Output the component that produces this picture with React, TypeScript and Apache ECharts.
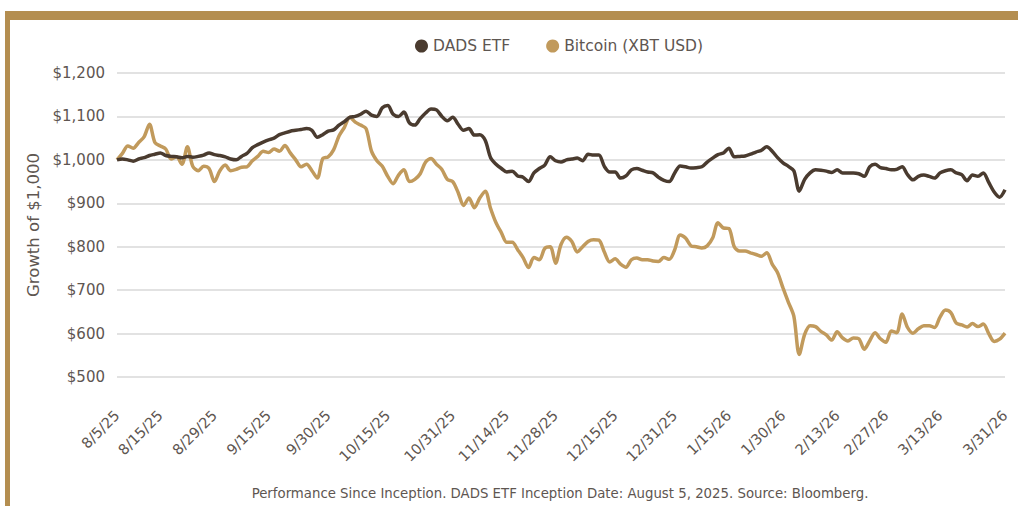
import React, { useEffect, useRef } from "react";
import * as echarts from "echarts";

// Trading-day holidays (US market) within the range
const holidays = ["2025-09-01", "2025-11-27", "2025-12-25", "2026-01-01", "2026-01-19", "2026-02-16"];

function tradingDays(): string[] {
  const out: string[] = [];
  const d = new Date(Date.UTC(2025, 7, 5));
  const end = new Date(Date.UTC(2026, 2, 31));
  while (d <= end) {
    const wd = d.getUTCDay();
    const iso = d.toISOString().slice(0, 10);
    if (wd !== 0 && wd !== 6 && holidays.indexOf(iso) < 0) {
      out.push(`${d.getUTCMonth() + 1}/${d.getUTCDate()}/${String(d.getUTCFullYear()).slice(2)}`);
    }
    d.setUTCDate(d.getUTCDate() + 1);
  }
  return out;
}

const categories = tradingDays();

const tickLabels = [
  "8/5/25", "8/15/25", "8/29/25", "9/15/25", "9/30/25", "10/15/25", "10/31/25", "11/14/25",
  "11/28/25", "12/15/25", "12/31/25", "1/15/26", "1/30/26", "2/13/26", "2/27/26", "3/13/26", "3/31/26",
];

const dadsEtf = [
  1000, 1002, 1000, 997, 1002, 1005, 1010, 1013, 1016, 1010,
  1008, 1007, 1005, 1008, 1006, 1008, 1011, 1016, 1012, 1010,
  1007, 1002, 1000, 1008, 1015, 1028, 1035, 1041, 1046, 1050,
  1058, 1062, 1066, 1068, 1070, 1072, 1068, 1052, 1058, 1066,
  1069, 1080, 1088, 1098, 1100, 1105, 1112, 1103, 1100, 1120,
  1125, 1105, 1100, 1110, 1085, 1080, 1095, 1108, 1117, 1115,
  1100, 1090, 1098, 1082, 1068, 1072, 1057, 1058, 1045, 1005,
  990, 980, 972, 974, 963, 960, 950, 970, 980, 988,
  1007, 998, 995, 1000, 1002, 1004, 998, 1013, 1011, 1011,
  985, 972, 972, 958, 963, 977, 980, 976, 972, 970,
  960, 953, 950, 970, 986, 984, 981, 982, 984, 995,
  1004, 1012, 1016, 1027, 1007, 1008, 1009, 1013, 1018, 1022,
  1030, 1020, 1005, 993, 985, 975, 928, 955, 970, 977,
  976, 974, 971, 977, 970, 970, 970, 968, 962, 984,
  990, 982, 980, 977, 978, 984, 966, 954, 962, 965,
  962, 958, 970, 975, 977, 970, 966, 952, 965, 962,
  970, 948, 926, 914, 931,
];

const bitcoin = [
  1000, 1015, 1032, 1027, 1040, 1053, 1082, 1040, 1032, 1025,
  1002, 1007, 990, 1030, 985, 975, 985, 980, 950, 975,
  988, 975, 978, 983, 984, 998, 1008, 1020, 1017, 1025,
  1020, 1033, 1016, 1000, 984, 990, 975, 958, 1003, 1007,
  1023, 1055, 1075, 1098, 1087, 1080, 1072, 1020, 998, 985,
  962, 945, 965, 977, 950, 955, 968, 995, 1003, 990,
  978, 955, 950, 925, 895, 912, 890, 912, 928, 888,
  855, 832, 810, 810, 793, 775, 752, 775, 770, 796,
  800, 762, 805, 822, 812, 788, 800, 812, 816, 815,
  788, 765, 772, 760, 753, 770, 774, 770, 770, 767,
  766, 775, 771, 793, 827, 820, 802, 800, 797, 802,
  820, 855, 843, 842, 800, 790, 790, 786, 782, 778,
  786, 760, 740, 705, 672, 640, 552, 598, 618, 616,
  605, 597, 585, 604, 590, 583, 590, 588, 564, 583,
  602, 588, 580, 606, 602, 645, 614, 601, 611, 618,
  618, 614, 638, 654, 648, 624, 620, 615, 623, 616,
  622, 600, 582, 587, 601,
];

const yTicks = [500, 600, 700, 800, 900, 1000, 1100, 1200];

const DADS_COLOR = "#4a3b2f";
const BTC_COLOR = "#c19a5c";
const BORDER_COLOR = "#b48e50";
const TEXT_COLOR = "#5e5651";
const FONT = "'DejaVu Sans', sans-serif";

export default function App() {
  const ref = useRef<HTMLDivElement>(null);

  useEffect(() => {
    document.body.style.margin = "0";
    if (!ref.current) return;
    const chart = echarts.init(ref.current, undefined, { renderer: "svg" });
    const labelSet = new Set(tickLabels);
    chart.setOption({
      animation: false,
      backgroundColor: "#ffffff",
      textStyle: { fontFamily: FONT },
      graphic: [
        { type: "rect", shape: { x: 5, y: 11, width: 1013, height: 9 }, style: { fill: BORDER_COLOR }, silent: true },
        { type: "rect", shape: { x: 5, y: 11, width: 5, height: 495 }, style: { fill: BORDER_COLOR }, silent: true },
        {
          type: "text",
          x: 560,
          y: 493,
          style: {
            text: "Performance Since Inception. DADS ETF Inception Date: August 5, 2025. Source: Bloomberg.",
            fill: TEXT_COLOR,
            font: `13.3px ${FONT}`,
            align: "center",
            verticalAlign: "middle",
          },
        },
      ],
      legend: {
        top: 33,
        left: 410,
        icon: "circle",
        itemWidth: 13,
        itemHeight: 13,
        itemGap: 36,
        textStyle: { color: TEXT_COLOR, fontSize: 15.5, fontFamily: FONT },
        data: ["DADS ETF", "Bitcoin (XBT USD)"],
      },
      grid: { left: 117, right: 13, top: 73, bottom: 129 },
      xAxis: {
        type: "category",
        data: categories,
        boundaryGap: false,
        axisLine: { show: false },
        axisTick: { show: false },
        splitLine: { show: false },
        axisLabel: {
          rotate: 45,
          margin: 36,
          color: TEXT_COLOR,
          fontSize: 14.5,
          fontFamily: FONT,
          interval: (_i: number, v: string) => labelSet.has(v),
        },
      },
      yAxis: {
        type: "value",
        min: yTicks[0],
        max: yTicks[yTicks.length - 1],
        interval: 100,
        name: "Growth of $1,000",
        nameLocation: "middle",
        nameRotate: 90,
        nameGap: 73,
        nameTextStyle: { color: TEXT_COLOR, fontSize: 16.5, fontFamily: FONT },
        axisLine: { show: false },
        axisTick: { show: false },
        axisLabel: {
          color: TEXT_COLOR,
          fontSize: 15,
          fontFamily: FONT,
          margin: 12,
          formatter: (v: number) => "$" + v.toLocaleString("en-US"),
        },
        splitLine: { lineStyle: { color: "#d9d9d9", width: 1.5 } },
      },
      series: [
        {
          name: "DADS ETF",
          type: "line",
          data: dadsEtf,
          showSymbol: false,
          smooth: 0.3,
          itemStyle: { color: DADS_COLOR },
          lineStyle: { color: DADS_COLOR, width: 3.5 },
          z: 3,
        },
        {
          name: "Bitcoin (XBT USD)",
          type: "line",
          data: bitcoin,
          showSymbol: false,
          smooth: 0.3,
          itemStyle: { color: BTC_COLOR },
          lineStyle: { color: BTC_COLOR, width: 3.5 },
          z: 2,
        },
      ],
    });
    return () => chart.dispose();
  }, []);

  return <div ref={ref} style={{ position: "absolute", left: 0, top: 0, width: 1018, height: 506 }} />;
}
